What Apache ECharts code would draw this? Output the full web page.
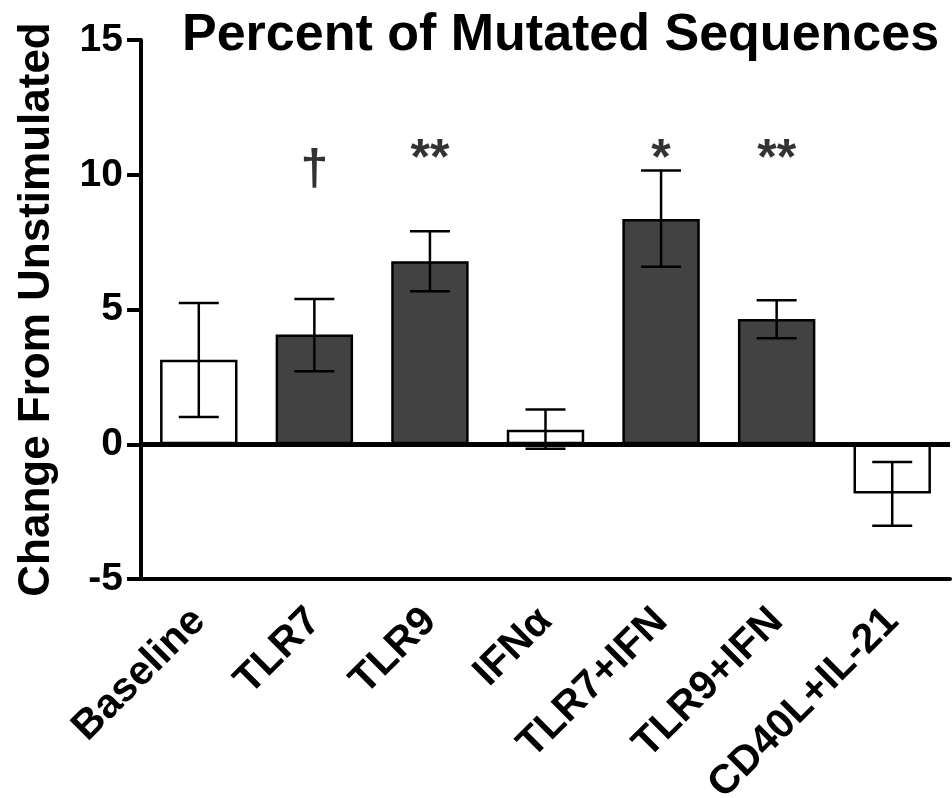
<!DOCTYPE html>
<html lang="en">
<head>
    <meta charset="UTF-8">
    <title>Percent of Mutated Sequences</title>
    <script src="https://cdn.jsdelivr.net/npm/echarts@6/dist/echarts.min.js"></script>
    <style>
        html, body { margin: 0; padding: 0; background: #fff; }
    </style>
</head>
<body>
<div id="main" style="width: 952px;height:798px;"></div>

<script>
    // data
    var categories = ['Baseline', 'TLR7', 'TLR9', 'IFNα', 'TLR7+IFN', 'TLR9+IFN', 'CD40L+IL-21'];
    var means = [3.14, 4.07, 6.79, 0.54, 8.36, 4.65, -1.83];
    var errLow = [1.01, 2.71, 5.68, -0.17, 6.59, 3.93, -3.02];
    var errHigh = [5.24, 5.39, 7.90, 1.29, 10.16, 5.34, -0.66];
    var filled = [false, true, true, false, true, true, false];
    var sigMarks = ['', '†', '**', '', '*', '**', ''];
    var sigY = [null, 10.15, 10.55, null, 10.55, 10.55, null];
    var yTicks = [-5, 0, 5, 10, 15];

    var font = 'Liberation Sans, Arial, sans-serif';
    var myChart = echarts.init(document.getElementById('main'));

    var barData = [];
    var errData = [];
    var sigData = [];
    for (var i = 0; i < categories.length; i++) {
        barData.push({
            value: means[i],
            itemStyle: {color: filled[i] ? '#424242' : '#ffffff'}
        });
        errData.push([i, errLow[i], errHigh[i]]);
        if (sigMarks[i]) {
            sigData.push({value: [i, sigY[i]], mark: sigMarks[i]});
        }
    }

    var option = {
        animation: false,
        title: {
            text: 'Percent of Mutated Sequences',
            left: 177,
            top: 5,
            textStyle: {fontFamily: font, fontSize: 52, fontWeight: 'bold', color: '#000'}
        },
        grid: {left: 141, right: 2, top: 40, bottom: 219, outerBoundsMode: 'none', containLabel: false},
        xAxis: {
            type: 'category',
            data: categories,
            axisLine: {onZero: false, lineStyle: {color: '#000', width: 4}},
            axisTick: {alignWithLabel: true, length: 10, lineStyle: {color: '#000', width: 3}},
            axisLabel: {
                interval: 0,
                rotate: 45,
                margin: 36,
                color: '#000',
                fontFamily: font,
                fontSize: 41,
                fontWeight: 'bold'
            }
        },
        yAxis: {
            type: 'value',
            min: yTicks[0],
            max: yTicks[yTicks.length - 1],
            interval: 5,
            name: 'Change From Unstimulated',
            nameLocation: 'middle',
            nameRotate: 90,
            nameGap: 82,
            nameTextStyle: {fontFamily: font, fontSize: 44, fontWeight: 'bold', color: '#000'},
            axisLine: {show: true, lineStyle: {color: '#000', width: 4}},
            axisTick: {show: true, length: 14, lineStyle: {color: '#000', width: 4}},
            axisLabel: {
                margin: 18,
                color: '#000',
                fontFamily: font,
                fontSize: 39,
                fontWeight: 'bold'
            },
            splitLine: {show: false}
        },
        series: [
            {
                type: 'bar',
                data: barData,
                barWidth: '67%',
                itemStyle: {borderColor: '#000', borderWidth: 2.5},
                markLine: {
                    silent: true,
                    symbol: 'none',
                    label: {show: false},
                    lineStyle: {color: '#000', width: 5, type: 'solid'},
                    data: [{yAxis: 0}]
                }
            },
            {
                // error bars
                type: 'custom',
                z: 5,
                data: errData,
                renderItem: function (params, api) {
                    var idx = api.value(0);
                    var lo = api.coord([idx, api.value(1)]);
                    var hi = api.coord([idx, api.value(2)]);
                    var half = 20;
                    var style = {stroke: '#000', lineWidth: 2.5};
                    return {
                        type: 'group',
                        children: [
                            {type: 'line', shape: {x1: lo[0], y1: lo[1], x2: hi[0], y2: hi[1]}, style: style},
                            {type: 'line', shape: {x1: lo[0] - half, y1: lo[1], x2: lo[0] + half, y2: lo[1]}, style: style},
                            {type: 'line', shape: {x1: hi[0] - half, y1: hi[1], x2: hi[0] + half, y2: hi[1]}, style: style}
                        ]
                    };
                }
            },
            {
                // significance marks
                type: 'scatter',
                symbolSize: 0,
                data: sigData,
                label: {
                    show: true,
                    position: 'inside',
                    formatter: function (p) { return p.data.mark; },
                    color: '#000',
                    fontFamily: font,
                    fontSize: 50,
                    fontWeight: 'bold'
                }
            }
        ]
    };

    myChart.setOption(option);
</script>

</body>
</html>
